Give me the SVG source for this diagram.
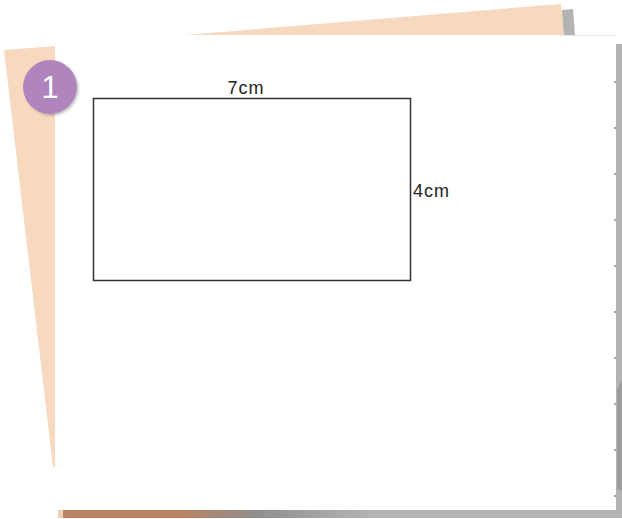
<svg xmlns="http://www.w3.org/2000/svg" width="622" height="519" viewBox="0 0 622 519">
  <defs>
    <style>
      .peach { fill: #F7D9BF; }
      .shade { fill: #B3B3B3; }
      .lbl { font-family: "Liberation Sans", Arial, sans-serif; font-size: 18px; fill: #222; letter-spacing: 1px; }
      .num { font-family: "Liberation Sans", Arial, sans-serif; font-size: 31px; fill: #fff; }
    </style>
    <linearGradient id="bottomGrad" x1="0" y1="0" x2="1" y2="0">
      <stop offset="0" stop-color="#B98463"/>
      <stop offset="0.22" stop-color="#B98463"/>
      <stop offset="0.35" stop-color="#8F8F8F"/>
      <stop offset="0.55" stop-color="#B3B3B3"/>
      <stop offset="1" stop-color="#B3B3B3"/>
    </linearGradient>
    <filter id="sh" x="-30%" y="-30%" width="160%" height="160%">
      <feDropShadow dx="1.5" dy="1.5" stdDeviation="1.2" flood-color="#000" flood-opacity="0.25"/>
    </filter>
  </defs>

  <rect width="622" height="519" fill="#ffffff"/>

  <g id="back-sheets">
    <polygon class="shade" points="562,10 573,9 575,36 563,36"/>
    <polygon class="peach" points="185,35 561,4 564,36 185,36"/>
    <polygon class="peach" points="4,50 56,46 56,467 53,467"/>
  </g>

  <g id="card">
    <rect x="55" y="35" width="561" height="475" fill="#ffffff"/>
    <line x1="560" y1="35.5" x2="616" y2="35.5" stroke="#e6e6e6" stroke-width="1"/>
    <rect class="shade" x="616" y="44" width="6" height="474"/>
    <polygon fill="#8c8c8c" opacity="0.6" points="617,390 622,380 622,490 617,490"/>
    <rect x="60" y="510" width="562" height="8" fill="url(#bottomGrad)"/>
    <rect x="58" y="510" width="5" height="8" fill="#F2CFB3"/>
    <g fill="#a8a8a8">
      <rect x="614" y="81" width="2" height="2"/>
      <rect x="614" y="127" width="2" height="2"/>
      <rect x="614" y="173" width="2" height="2"/>
      <rect x="614" y="219" width="2" height="2"/>
      <rect x="614" y="265" width="2" height="2"/>
      <rect x="614" y="311" width="2" height="2"/>
      <rect x="614" y="357" width="2" height="2"/>
      <rect x="614" y="403" width="2" height="2"/>
      <rect x="614" y="449" width="2" height="2"/>
      <rect x="614" y="495" width="2" height="2"/>
    </g>
  </g>

  <g id="badge">
    <circle cx="50" cy="87" r="27" fill="#B085BE" filter="url(#sh)"/>
    <text class="num" x="50" y="98" text-anchor="middle">1</text>
  </g>

  <g id="rectangle">
    <rect x="93.5" y="98.5" width="317" height="182" fill="none" stroke="#333333" stroke-width="1.5"/>
    <text class="lbl" x="246" y="94" text-anchor="middle">7cm</text>
    <text class="lbl" x="413" y="197">4cm</text>
  </g>
</svg>
